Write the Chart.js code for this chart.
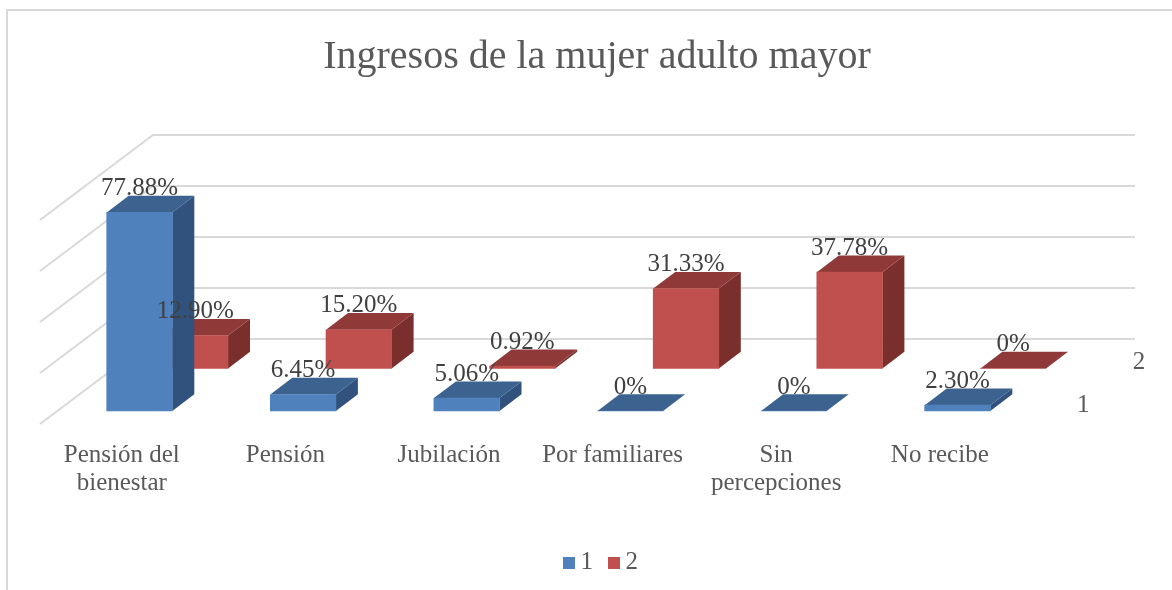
<!DOCTYPE html>
<html><head><meta charset="utf-8">
<style>html,body{margin:0;padding:0;background:#fff;overflow:hidden}
#w{position:relative;width:1172px;height:590px;overflow:hidden}
#f{position:absolute;left:6px;top:9px;width:1200px;height:600px;border:2px solid #d9d9d9;box-sizing:border-box}
canvas{position:absolute;left:0;top:0}</style>
<script src="https://cdn.jsdelivr.net/npm/chart.js@4"></script></head>
<body><div id="w"><div id="f"></div><canvas id="c" width="1194" height="590"></canvas></div>
<script>
const categories=[["Pensión del","bienestar"],"Pensión","Jubilación","Por familiares",["Sin","percepciones"],"No recibe"];
const series1=[77.88,6.45,5.06,0,0,2.30];
const series2=[12.90,15.20,0.92,31.33,37.78,0];
const seriesNames=["1","2"];
const titleText="Ingresos de la mujer adulto mayor";
const gridTicks=[0,20,40,60,80];
const FONT="'Liberation Serif'";
const faces=[{front:"#4F81BD",top:"#3C6290",side:"#30527C",dx:0,dy:0},{front:"#C0504D",top:"#8F3A38",side:"#7B2F2D",dx:55.7,dy:-42.5}];
const DX=22,DY=-16.7;
const fmt=v=>v===0?"0%":v.toFixed(2)+"%";
function swatch(color){const s=document.createElement('canvas');s.width=26;s.height=12;const x=s.getContext('2d');x.fillStyle=color;x.fillRect(14,0,12,12);return s;}
const cube={id:'cube',
 beforeDatasetsDraw(ch){const c=ch.ctx,y=ch.scales.y;c.save();c.strokeStyle="#d9d9d9";c.lineWidth=2;
  gridTicks.forEach(v=>{const b=y.getPixelForValue(v)-72;c.beginPath();c.moveTo(40,b+85);c.lineTo(153,b);c.lineTo(1135,b);c.stroke();});c.restore();},
 beforeDatasetDraw(ch,a){const c=ch.ctx,f=faces[a.index];c.save();c.translate(f.dx,f.dy);
  a.meta.data.forEach(b=>{const p=b.getProps(['x','y','base','width'],true),l=p.x-p.width/2,r=p.x+p.width/2;
   c.fillStyle=f.side;c.beginPath();c.moveTo(r,p.y);c.lineTo(r+DX,p.y+DY);c.lineTo(r+DX,p.base+DY);c.lineTo(r,p.base);c.closePath();c.fill();
   c.fillStyle=f.top;c.beginPath();c.moveTo(l,p.y);c.lineTo(l+DX,p.y+DY);c.lineTo(r+DX,p.y+DY);c.lineTo(r,p.y);c.closePath();c.fill();});},
 afterDatasetDraw(ch){ch.ctx.restore();},
 afterDatasetsDraw(ch){const c=ch.ctx;c.save();c.textAlign='center';c.textBaseline='middle';c.font="25px "+FONT;
  ch.data.datasets.forEach((d,i)=>{const f=faces[i];ch.getDatasetMeta(i).data.forEach((b,j)=>{
    c.fillStyle="#404040";c.fillText(fmt(d.data[j]),b.x+f.dx,b.y+f.dy-24);});
   c.fillStyle="#595959";c.fillText(d.label,ch.chartArea.right+44+f.dx,ch.scales.y.getPixelForValue(0)-6+f.dy);});
  c.restore();}};
new Chart(document.getElementById('c'),{type:'bar',
 data:{labels:categories,datasets:[
  {label:seriesNames[0],data:series1,backgroundColor:faces[0].front,barThickness:65.6,grouped:false,clip:false},
  {label:seriesNames[1],data:series2,backgroundColor:faces[1].front,barThickness:65.6,grouped:false,clip:false}]},
 plugins:[cube],
 options:{responsive:false,animation:false,layout:{padding:{bottom:5}},
  plugins:{tooltip:{enabled:false},
   title:{display:true,text:titleText,color:"#595959",font:{family:FONT,size:40,weight:'normal'},padding:{top:33,bottom:126}},
   legend:{position:'bottom',labels:{color:"#595959",font:{family:FONT,size:25,lineHeight:1.152},boxWidth:12,boxHeight:12,padding:8,usePointStyle:true,
     generateLabels:ch=>ch.data.datasets.map((d,i)=>({text:d.label,datasetIndex:i,pointStyle:swatch(d.backgroundColor),fontColor:"#595959",lineWidth:0,strokeStyle:'transparent',fillStyle:d.backgroundColor}))}}},
  scales:{
   x:{grid:{display:false},border:{display:false},afterFit:s=>{s.height=131;},
      ticks:{color:"#595959",font:{family:FONT,size:25,lineHeight:1.12},labelOffset:-17.7,padding:22,maxRotation:0,autoSkip:false}},
   y:{min:0,max:80,position:'left',ticks:{display:false,stepSize:20},grid:{display:false},border:{display:false},afterFit:s=>{s.width=57.7;}},
   yR:{position:'right',min:0,max:80,ticks:{display:false},grid:{display:false},border:{display:false},afterFit:s=>{s.width=154.7;}}
  }}});
</script></body></html>
